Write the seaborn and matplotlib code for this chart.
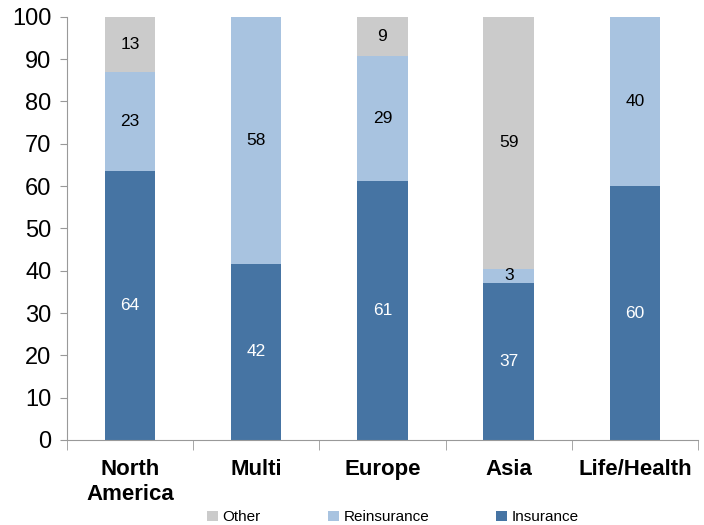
import pandas as pd
import matplotlib.pyplot as plt
import seaborn as sns

# dados
categories = ["North\nAmerica", "Multi", "Europe", "Asia", "Life/Health"]
insurance = [63.6, 41.6, 61.3, 37.2, 60.0]
reinsurance = [23.4, 58.4, 29.4, 3.3, 40.0]
other = [13.0, 0.0, 9.3, 59.4, 0.0]

c_ins = "#4674A3"
c_rein = "#A8C3E0"
c_other = "#CBCBCB"

df = pd.DataFrame({"cat": categories, "Insurance": insurance,
                   "Reinsurance": reinsurance, "Other": other})
df["b_rein"] = df["Insurance"]
df["b_other"] = df["Insurance"] + df["Reinsurance"]

sns.set_style("white")
plt.rcParams["font.family"] = ["Liberation Sans", "DejaVu Sans"]
plt.rcParams["text.color"] = "black"
plt.rcParams["xtick.color"] = "black"
plt.rcParams["ytick.color"] = "black"

fig = plt.figure(figsize=(7.04, 5.25), dpi=100)
ax = fig.add_axes([0.0947, 0.162, 0.897, 0.806])

w = 0.40
sns.barplot(data=df, x="cat", y="Insurance", color=c_ins, width=w,
            saturation=1, ax=ax, label="Insurance", linewidth=0)
sns.barplot(data=df, x="cat", y="Reinsurance", color=c_rein, width=w,
            saturation=1, ax=ax, bottom=df["b_rein"], label="Reinsurance",
            linewidth=0)
sns.barplot(data=df, x="cat", y="Other", color=c_other, width=w,
            saturation=1, ax=ax, bottom=df["b_other"], label="Other",
            linewidth=0)

# rotulos dentro das barras
for i, cont in enumerate(ax.containers):
    labels = [f"{v:.0f}" if v > 0 else "" for v in cont.datavalues]
    ax.bar_label(cont, labels=labels, label_type="center",
                 color="white" if i == 0 else "black", fontsize=12.5)

ax.set_ylim(0, 100)
ax.set_xlim(-0.5, 4.5)
ax.set_yticks(range(0, 101, 10))
ax.set_xlabel("")
ax.set_ylabel("")
ax.tick_params(axis="y", labelsize=17, length=5, color="#999999",
               labelcolor="black", direction="out", left=True, pad=6)
ax.tick_params(axis="x", labelsize=16, length=0, pad=14, labelcolor="black")
for t in ax.get_xticklabels():
    t.set_fontweight("bold")
ax.set_xticks([i - 0.5 for i in range(6)], minor=True)
ax.tick_params(axis="x", which="minor", length=7, color="#999999",
               direction="out", bottom=True)

sns.despine(ax=ax)
for s in ["left", "bottom"]:
    ax.spines[s].set_color("#999999")

h, l = ax.get_legend_handles_labels()
if ax.get_legend() is not None:
    ax.get_legend().remove()
order = [2, 1, 0]
fig.legend([h[i] for i in order], [l[i] for i in order], loc="lower left",
           bbox_to_anchor=(0.275, -0.025), ncol=3, frameon=False,
           fontsize=11, handlelength=0.7, handleheight=0.7,
           handletextpad=0.3, columnspacing=4.4)

fig.savefig("out.png", dpi=100)
